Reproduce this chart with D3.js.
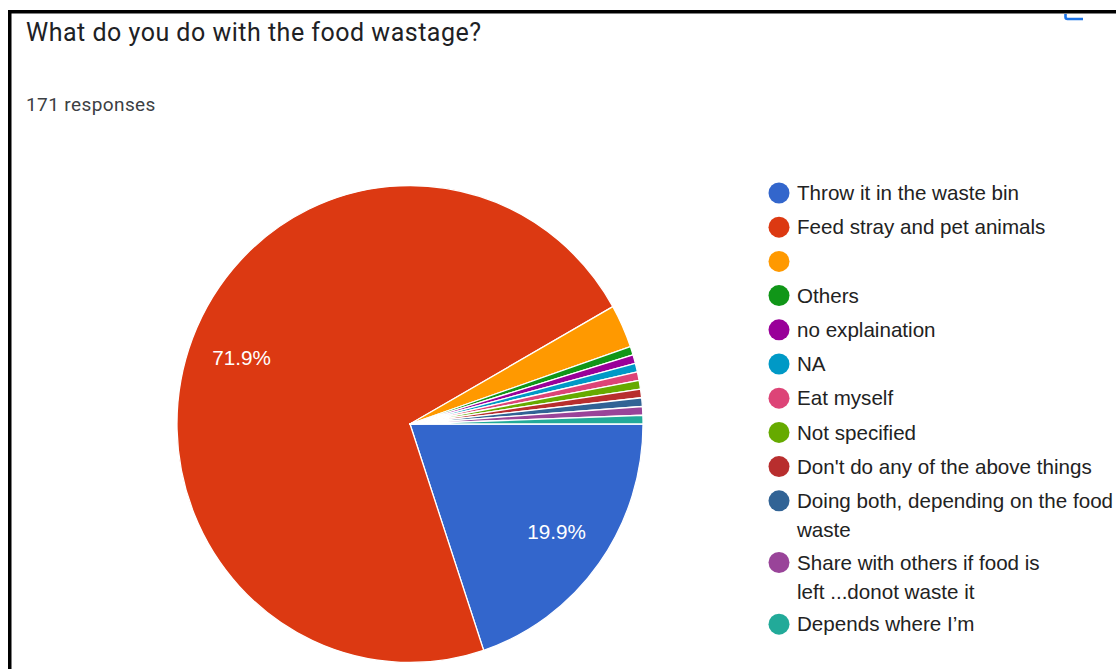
<!DOCTYPE html>
<html>
<head>
<meta charset="utf-8">
<script src="https://cdn.jsdelivr.net/npm/d3@7"></script>
<style>
  body { margin: 0; background: #fff; }
  svg { display: block; }
</style>
</head>
<body>
<div id="chart"></div>
<script>
// responses per answer (171 total)
const categories = [
  'Throw it in the waste bin',
  'Feed stray and pet animals',
  '',
  'Others',
  'no explaination',
  'NA',
  'Eat myself',
  'Not specified',
  "Don't do any of the above things",
  'Doing both, depending on the food waste',
  'Share with others if food is left ...donot waste it',
  'Depends where I\u2019m'
];
const counts = [34, 123, 5, 1, 1, 1, 1, 1, 1, 1, 1, 1];
const colors = ['#3366cc', '#dc3912', '#ff9900', '#109618', '#990099', '#0099c6',
  '#dd4477', '#66aa00', '#b82e2e', '#316395', '#994499', '#22aa99'];
// legend lines as wrapped in the original
const legendLines = [
  ['Throw it in the waste bin'],
  ['Feed stray and pet animals'],
  [''],
  ['Others'],
  ['no explaination'],
  ['NA'],
  ['Eat myself'],
  ['Not specified'],
  ["Don't do any of the above things"],
  ['Doing both, depending on the food', 'waste'],
  ['Share with others if food is', 'left ...donot waste it'],
  ['Depends where I\u2019m']
];

const W = 1116, H = 669;
const CX = 410, CY = 424, R = 238.5, SX = 0.977;
const FONT = '"Liberation Sans", Arial, sans-serif';

const svg = d3.select('#chart').append('svg')
  .attr('width', W).attr('height', H);

// frame from the screenshot
svg.append('rect').attr('x', 8).attr('y', 10).attr('width', W).attr('height', 3.5).attr('fill', '#000');
svg.append('rect').attr('x', 8).attr('y', 10).attr('width', 3.5).attr('height', H).attr('fill', '#000');
svg.append('path')
  .attr('d', 'M1065.5,14 L1065.5,17 Q1065.5,19 1067.5,19 L1083,19')
  .attr('fill', 'none').attr('stroke', '#1a73e8').attr('stroke-width', 2.6);

svg.append('text')
  .attr('x', 26).attr('y', 41)
  .attr('font-family', 'Roboto, Arial, sans-serif')
  .attr('font-size', 25)
  .attr('letter-spacing', 0.5)
  .attr('fill', '#202124')
  .text('What do you do with the food wastage?');

svg.append('text')
  .attr('x', 26).attr('y', 111)
  .attr('font-family', 'Roboto, Arial, sans-serif')
  .attr('font-size', 19)
  .attr('letter-spacing', 0.4)
  .attr('fill', '#3c4043')
  .text(d3.sum(counts) + ' responses');

const data = categories.map((c, i) => ({ label: c, value: counts[i], color: colors[i] }));
const total = d3.sum(counts);

const pie = d3.pie()
  .value(d => d.value)
  .sort(null)
  .startAngle(Math.PI / 2)
  .endAngle(Math.PI / 2 + 2 * Math.PI);

const arc = d3.arc().innerRadius(0).outerRadius(R);
const labelArc = d3.arc().innerRadius(R * 0.775).outerRadius(R * 0.775);

const arcs = pie(data);

const g = svg.append('g').attr('transform', `translate(${CX},${CY})`);
g.append('g').attr('transform', `scale(${SX},1)`)
  .selectAll('path')
  .data(arcs)
  .enter()
  .append('path')
  .attr('d', arc)
  .attr('fill', d => d.data.color)
  .attr('stroke', '#fff')
  .attr('stroke-width', 1.3)
  .attr('stroke-linejoin', 'round');

g.selectAll('text.pct')
  .data(arcs.filter(d => d.data.value / total > 0.05))
  .enter()
  .append('text')
  .attr('class', 'pct')
  .attr('x', d => labelArc.centroid(d)[0] * SX)
  .attr('y', d => labelArc.centroid(d)[1])
  .attr('dy', '0.35em')
  .attr('text-anchor', 'middle')
  .attr('font-family', FONT)
  .attr('font-size', 20.7)
  .attr('fill', '#fff')
  .text(d => (d.data.value / total * 100).toFixed(1) + '%');

// legend
const legend = svg.append('g').attr('transform', 'translate(779,193)');
let yPos = 0;
data.forEach((d, i) => {
  const item = legend.append('g').attr('transform', `translate(0,${yPos})`);
  item.append('circle').attr('r', 10.5).attr('fill', d.color);
  legendLines[i].forEach((line, j) => {
    item.append('text')
      .attr('x', 18).attr('y', j * 29)
      .attr('dy', '0.35em')
      .attr('font-family', FONT)
      .attr('font-size', 20.6)
      .attr('fill', '#222')
      .text(line);
  });
  yPos += 34.2 + (legendLines[i].length - 1) * 27.5;
});
</script>
</body>
</html>
